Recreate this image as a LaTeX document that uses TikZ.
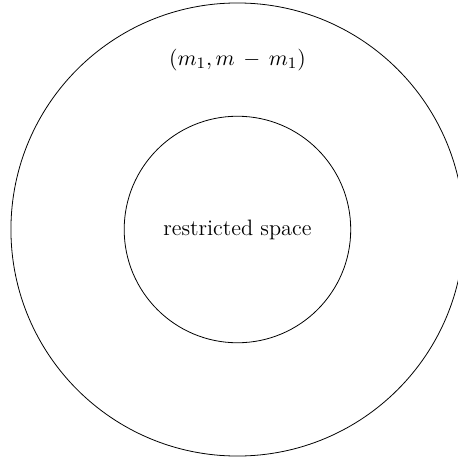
\documentclass[tikz,border=0pt]{standalone}
\begin{document}
\begin{tikzpicture}[ring/.style={circle,draw,inner sep=0pt},
  txt/.style={font=\fontsize{11.2}{13.5}\selectfont}]
\useasboundingbox (-119.3pt,-115.3pt) rectangle (110.3pt,115.3pt);
\node[ring,minimum size=8cm] (outer) at (0,0) {};
\node[ring,minimum size=4cm,txt] (inner) at (0,0) {restricted space};
\node[txt] (lab) at (0,2.99) {$(m_1, m \,-\, m_1)$};
\end{tikzpicture}
\end{document}
